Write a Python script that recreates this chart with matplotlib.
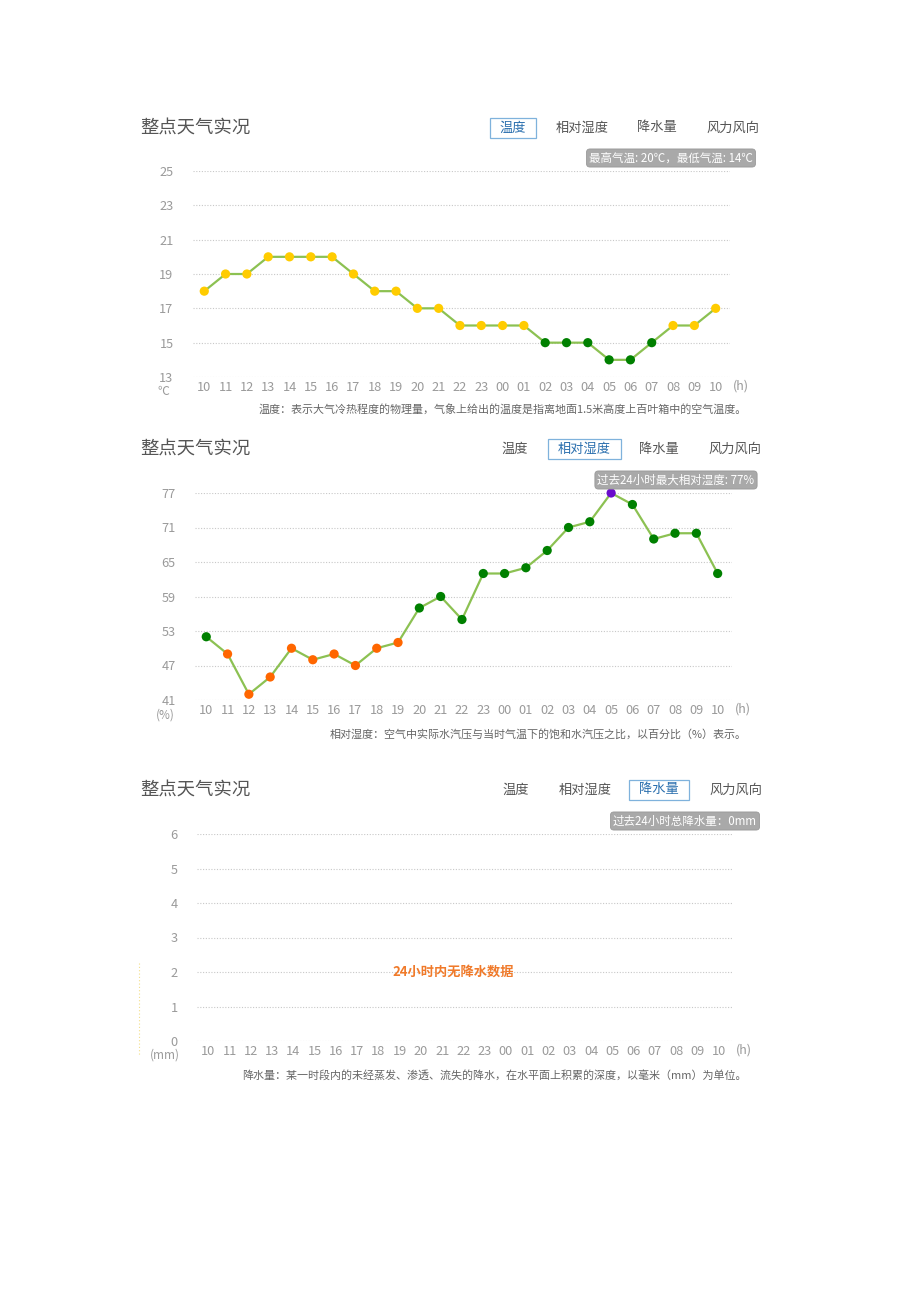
import matplotlib
matplotlib.use("Agg")
import matplotlib.pyplot as plt
from matplotlib.lines import Line2D
from matplotlib.patches import Rectangle
from matplotlib.transforms import blended_transform_factory

plt.rcParams['font.family'] = ['Noto Sans CJK SC', 'DejaVu Sans']

W, H = 920, 1302

hours = ['10', '11', '12', '13', '14', '15', '16', '17', '18', '19', '20', '21', '22',
         '23', '00', '01', '02', '03', '04', '05', '06', '07', '08', '09', '10']
temperature = [18, 19, 19, 20, 20, 20, 20, 19, 18, 18, 17, 17, 16,
               16, 16, 16, 15, 15, 15, 14, 14, 15, 16, 16, 17]
humidity = [52, 49, 42, 45, 50, 48, 49, 47, 50, 51, 57, 59, 55,
            63, 63, 64, 67, 71, 72, 77, 75, 69, 70, 70, 63]
temp_ticks = [13, 15, 17, 19, 21, 23, 25]
hum_ticks = [41, 47, 53, 59, 65, 71, 77]
rain_ticks = [0, 1, 2, 3, 4, 5, 6]
tabs = ['温度', '相对湿度', '降水量', '风力风向']

TITLE_C = '#555555'
TICK_C = '#9a9a9a'
LINE_C = '#8cc152'


def fx(x):
    return x / W


def fy(y):
    return 1 - y / H


def header(y, tab_x, active, badge, badge_x, badge_y):
    fig.text(fx(140), fy(y), '整点天气实况', fontsize=13.2, color=TITLE_C, va='center')
    for i, (t, x) in enumerate(zip(tabs, tab_x)):
        if i == active:
            w = 13.5 * len(t) + 19
            fig.add_artist(Rectangle((fx(x - w / 2), fy(y + 10)), w / W, 20 / H,
                                     transform=fig.transFigure, fc='white', ec='#7fb2dc', lw=0.9))
            fig.text(fx(x), fy(y), t, fontsize=9.5, color='#2a6fae', ha='center', va='center')
        else:
            fig.text(fx(x), fy(y), t, fontsize=9.5, color=TITLE_C, ha='center', va='center')
    fig.text(fx(badge_x), fy(badge_y), badge, fontsize=8.3, color='white', ha='center', va='center',
             bbox=dict(boxstyle='round,pad=0.22,rounding_size=0.3', fc='#a9a9a9', ec='#999999', lw=0.6))


def make_axes(left, right, top, bottom, ylim, yticks, unit, unit_xy, desc, desc_y):
    ax = fig.add_axes([fx(left), fy(bottom), fx(right) - fx(left), (bottom - top) / H])
    step = (right - left - 25) / 24.6
    ax.set_xlim(-11 / step, 24 + 14 / step)
    ax.set_ylim(*ylim)
    ax.set_yticks(yticks)
    ax.set_xticks(range(len(hours)))
    ax.set_xticklabels(hours)
    ax.tick_params(length=0, colors=TICK_C, labelsize=9.2)
    ax.tick_params(axis='y', pad=14)
    ax.tick_params(axis='x', pad=3)
    for s in ax.spines.values():
        s.set_visible(False)
    ax.grid(axis='y', ls=(0, (1, 1.5)), color='#c8c8c8', lw=0.8)
    ax.set_axisbelow(True)
    fig.text(fx(right + 11), fy(bottom + 9), '(h)', fontsize=9, color=TICK_C, ha='center', va='center')
    fig.text(fx(unit_xy[0]), fy(unit_xy[1]), unit, fontsize=8.5, color=TICK_C, ha='center', va='center')
    fig.text(fx(747), fy(desc_y), desc, fontsize=7.95, color='#666666', ha='right', va='center')
    return ax


fig = plt.figure(figsize=(W / 100, H / 100), dpi=100)
x = range(len(hours))

# panel 1: temperature
header(128, [513, 582, 657, 733], 0, '最高气温: 20℃，最低气温: 14℃', 671, 158)
ax1 = make_axes(193, 730, 171, 377, (13, 25), temp_ticks, '℃', (163, 391),
                '温度：表示大气冷热程度的物理量，气象上给出的温度是指离地面1.5米高度上百叶箱中的空气温度。', 410)
ax1.plot(x, temperature, color=LINE_C, lw=1.6, zorder=2)
tcol = ['#ffcc00' if v >= 16 else '#008000' for v in temperature]
ax1.scatter(x, temperature, s=44, c=tcol, zorder=3, clip_on=False, linewidths=0)

# panel 2: humidity
header(449, [515, 584, 659, 735], 1, '过去24小时最大相对湿度: 77%', 676, 480)
ax2 = make_axes(195, 732, 493, 700, (41, 77), hum_ticks, '(%)', (165, 715),
                '相对湿度：空气中实际水汽压与当时气温下的饱和水汽压之比，以百分比（%）表示。', 734)
ax2.plot(x, humidity, color=LINE_C, lw=1.6, zorder=2)
hmax = max(humidity)
hcol = ['#6a0dcc' if v == hmax else ('#ff6600' if v < 52 else '#008000') for v in humidity]
ax2.scatter(x, humidity, s=44, c=hcol, zorder=3, clip_on=False, linewidths=0)

# panel 3: precipitation (no data)
header(790, [516, 585, 659, 736], 2, '过去24小时总降水量：0mm', 685, 821)
ax3 = make_axes(197, 733, 834, 1041, (0, 6), rain_ticks, '(mm)', (165, 1055),
                '降水量：某一时段内的未经蒸发、渗透、流失的降水，在水平面上积累的深度，以毫米（mm）为单位。', 1075)
ax3.text(fx(453), 2, '24小时内无降水数据', fontsize=9.5, color='#f07a2a', fontweight='bold',
         ha='center', va='center',
         transform=blended_transform_factory(fig.transFigure, ax3.transData))
fig.add_artist(Line2D([fx(139), fx(139)], [fy(963), fy(1056)], transform=fig.transFigure,
                      ls=(0, (1, 2)), color='#f3df8a', lw=0.8))

fig.savefig('out.png', dpi=100)
